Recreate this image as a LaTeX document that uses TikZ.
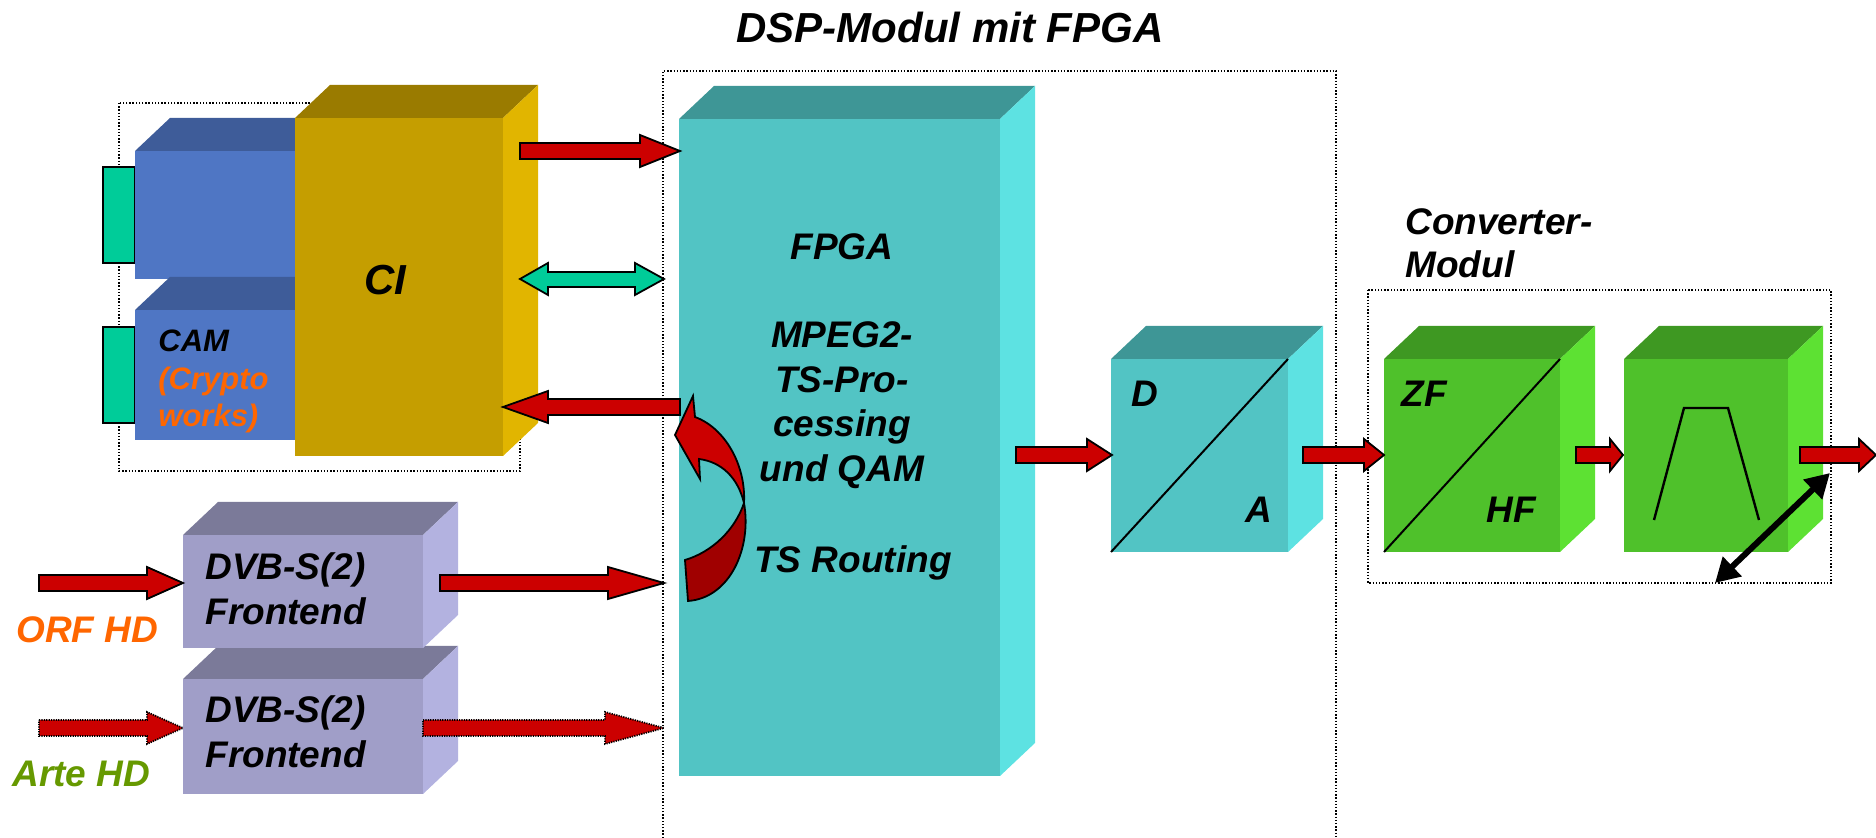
\documentclass[tikz,border=0pt]{standalone}
\usepackage{fontspec}
\setmainfont{Liberation Sans}
\usetikzlibrary{arrows.meta}
\definecolor{camF}{HTML}{4F76C4}
\definecolor{camT}{HTML}{3E5C99}
\definecolor{ciF}{HTML}{C59E00}
\definecolor{ciT}{HTML}{9A7B00}
\definecolor{ciS}{HTML}{E1B500}
\definecolor{tqF}{HTML}{52C4C4}
\definecolor{tqT}{HTML}{3E9696}
\definecolor{tqS}{HTML}{5DE2E2}
\definecolor{dvF}{HTML}{A09EC8}
\definecolor{dvT}{HTML}{7B7A99}
\definecolor{dvS}{HTML}{B3B2E0}
\definecolor{grF}{HTML}{4FC12B}
\definecolor{grT}{HTML}{3E9822}
\definecolor{grS}{HTML}{5DE133}
\definecolor{conn}{HTML}{00CC99}
\definecolor{ared}{HTML}{CC0000}
\definecolor{adark}{HTML}{A00000}
\definecolor{orng}{HTML}{FF6600}
\definecolor{olive}{HTML}{669900}
\tikzset{
  lbl/.style={font=\bfseries\itshape\fontsize{18.5}{22}\selectfont, inner sep=0pt},
  big/.style={font=\bfseries\itshape\fontsize{21}{25}\selectfont, inner sep=0pt},
  small/.style={font=\bfseries\itshape\fontsize{15.5}{19}\selectfont, inner sep=0pt},
  fat/.style={fill=ared, draw=black, line width=0.9pt, line join=miter},
  fatdot/.style={fill=ared, draw=black, line width=0.9pt, dash pattern=on 0.6pt off 0.6pt},
  frame/.style={draw=black, line width=0.8pt, dash pattern=on 0.7pt off 0.9pt},
  plainline/.style={draw=black, line width=1pt},
}
% 3D box: name, x1, y1, x2, y2, front, top, side
\newcommand\boxthree[8]{%
  \fill[#7] (#2,#3) -- (#2+35,#3-33) -- (#4+35,#3-33) -- (#4,#3) -- cycle;
  \fill[#8] (#4,#3) -- (#4+35,#3-33) -- (#4+35,#5-33) -- (#4,#5) -- cycle;
  \fill[#6] (#2,#3) rectangle (#4,#5);
  \coordinate (#1) at ({(#2+#4)/2},{(#3+#5)/2});
}
% fat arrow: tail x, head base x, tip x, y, style
\newcommand\fatarrow[5]{%
  \filldraw[#5] (#1,#4-8) -- (#2,#4-8) -- (#2,#4-16) -- (#3,#4) -- (#2,#4+16) -- (#2,#4+8) -- (#1,#4+8) -- cycle;
}
\begin{document}
\begin{tikzpicture}[x=0.5pt,y=-0.5pt]
\useasboundingbox (0,0) rectangle (1876,838);

% title
\node[big, anchor=base] (title) at (950,43) {DSP-Modul mit FPGA};

% frames
\draw[frame] (663,838) -- (663,71) -- (1336,71) -- (1336,838);
\draw[frame] (119,103) rectangle (520,471);
\draw[frame] (1368,290) rectangle (1831,583);

% CAM connectors
\filldraw[fill=conn, draw=black, line width=0.9pt] (103,167) rectangle (135,263);
\filldraw[fill=conn, draw=black, line width=0.9pt] (103,327) rectangle (135,423);
% CAM modules
\boxthree{cam1}{135}{151}{300}{279}{camF}{camT}{camT}
\boxthree{cam2}{135}{310}{300}{440}{camF}{camT}{camT}
% CI
\boxthree{ci}{295}{118}{503}{456}{ciF}{ciT}{ciS}
% FPGA
\boxthree{fpga}{679}{119}{1000}{776}{tqF}{tqT}{tqS}
% D/A
\boxthree{da}{1111}{359}{1288}{552}{tqF}{tqT}{tqS}
\draw[plainline] (1111,552) -- (1288,359);
% ZF/HF
\boxthree{zf}{1384}{359}{1560}{552}{grF}{grT}{grS}
\draw[plainline] (1384,552) -- (1560,359);
% filter
\boxthree{flt}{1624}{359}{1788}{552}{grF}{grT}{grS}
\draw[black, line width=1.2pt] (1654,520) -- (1684,408) -- (1728,408) -- (1759,520);
% DVB frontends
\boxthree{dvb2}{183}{679}{423}{794}{dvF}{dvT}{dvS}
\boxthree{dvb1}{183}{535}{423}{648}{dvF}{dvT}{dvS}

% texts
\node[big] (citext) at (385,280) {CI};
\node[small, anchor=base west] (cam) at (158,352) {CAM};
\node[small, anchor=base west, text=orng] (cr1) at (158,390) {(Crypto};
\node[small, anchor=base west, text=orng] (cr2) at (158,427) {works)};
\node[lbl, anchor=base] (f1) at (842,260) {FPGA};
\node[lbl, anchor=base] (f2) at (842,348) {MPEG2-};
\node[lbl, anchor=base] (f3) at (842,393) {TS-Pro-};
\node[lbl, anchor=base] (f4) at (842,437) {cessing};
\node[lbl, anchor=base] (f5) at (842,482) {und QAM};
\node[lbl, anchor=base] (tsr) at (853,573) {TS Routing};
\node[lbl, anchor=base west] (dl) at (1131,407) {D};
\node[lbl, anchor=base west] (al) at (1245,523) {A};
\node[lbl, anchor=base west] (zfl) at (1401,407) {ZF};
\node[lbl, anchor=base west] (hfl) at (1486,523) {HF};
\node[lbl, anchor=base west] (conv1) at (1405,235) {Converter-};
\node[lbl, anchor=base west] (conv2) at (1405,278) {Modul};
\node[lbl, anchor=base west] (d1a) at (205,580) {DVB-S(2)};
\node[lbl, anchor=base west] (d1b) at (205,625) {Frontend};
\node[lbl, anchor=base west] (d2a) at (205,723) {DVB-S(2)};
\node[lbl, anchor=base west] (d2b) at (205,768) {Frontend};
\node[lbl, anchor=base west, text=orng] (orf) at (16,643) {ORF HD};
\node[lbl, anchor=base west, text=olive] (arte) at (12,787) {Arte HD};

% arrows
\fatarrow{520}{640}{680}{151}{fat}
\filldraw[fill=conn, draw=black, line width=0.9pt] (520,279) -- (548,263) -- (548,272) -- (635,272) -- (635,263) -- (664,279) -- (635,295) -- (635,287) -- (548,287) -- (548,295) -- cycle;
\fatarrow{680}{548}{503}{407}{fat}
\fatarrow{39}{147}{183}{583}{fat}
\fatarrow{440}{608}{664}{583}{fat}
\fatarrow{39}{147}{183}{728}{fatdot}
\fatarrow{423}{605}{664}{728}{fatdot}
\fatarrow{1016}{1087}{1112}{455}{fat}
\fatarrow{1303}{1364}{1384}{455}{fat}
\fatarrow{1576}{1610}{1623}{455}{fat}
\fatarrow{1800}{1859}{1876}{455}{fat}

% curved routing arrow
\coordinate (X) at (744,503);
\filldraw[fill=adark, draw=black, line width=0.9pt] (X) .. controls (735,530) and (712,552) .. (685,560) -- (688,601) .. controls (730,598) and (752,548) .. (X) -- cycle;
\filldraw[fill=ared, draw=black, line width=0.9pt] (X) .. controls (738,478) and (722,462) .. (699,459) -- (700,479) -- (675,435) -- (693,396) -- (695,417) .. controls (725,428) and (746,465) .. (X) -- cycle;

% adjustment double arrow
\coordinate (adj1) at (1830,473);
\coordinate (adj2) at (1715,583);
\draw[line width=3pt, {Triangle[length=12pt,width=13pt]}-{Triangle[length=12pt,width=13pt]}] (adj1) -- (adj2);
\end{tikzpicture}
\end{document}
